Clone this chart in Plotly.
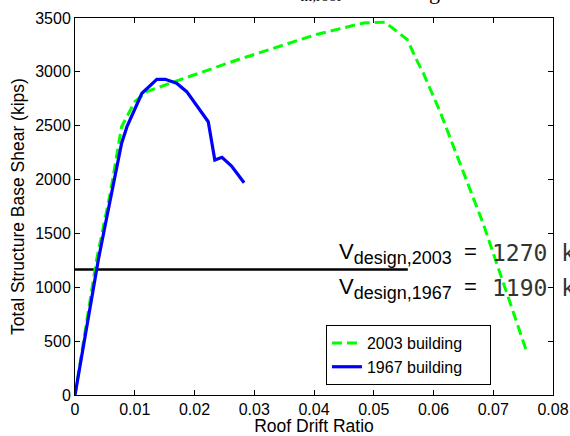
import plotly.graph_objects as go

# ---- data ----
drift_2003 = [0, 0.0036, 0.0059, 0.0078, 0.0100, 0.0120, 0.0159, 0.0271, 0.0404,
              0.0483, 0.0519, 0.0556, 0.0571, 0.0583, 0.0611, 0.0683, 0.0755]
shear_2003 = [0, 1253, 1872, 2491, 2723, 2816, 2894, 3110, 3347,
              3454, 3460, 3300, 3120, 2987, 2630, 1594, 418]

drift_1967 = [0, 0.0039, 0.0050, 0.0064, 0.0078, 0.0087, 0.0112, 0.0137, 0.0151,
              0.0170, 0.0187, 0.0209, 0.0223, 0.0234, 0.0246, 0.0262, 0.0283]
shear_1967 = [0, 1253, 1562, 1965, 2337, 2491, 2801, 2931, 2931,
              2894, 2816, 2646, 2537, 2182, 2207, 2126, 1971]

design_line_x = [0, 0.0557]
design_line_y = [1165, 1165]

x_ticks = [0, 0.01, 0.02, 0.03, 0.04, 0.05, 0.06, 0.07, 0.08]
x_tick_labels = ["0", "0.01", "0.02", "0.03", "0.04", "0.05", "0.06", "0.07", "0.08"]
y_ticks = [0, 500, 1000, 1500, 2000, 2500, 3000, 3500]
y_tick_labels = ["0", "500", "1000", "1500", "2000", "2500", "3000", "3500"]

FONT = "Liberation Sans, Arial, sans-serif"
SUB = "<sub><span style='font-size:18px'>{}</span></sub>"
PAD = "\u00a0" * 5

fig = go.Figure()
fig.add_trace(go.Scatter(x=design_line_x, y=design_line_y, mode="lines",
                         line=dict(color="black", width=2.5), showlegend=False,
                         hoverinfo="skip"))
fig.add_trace(go.Scatter(x=drift_2003, y=shear_2003, mode="lines", name="2003 building" + PAD,
                         line=dict(color="#00ff00", width=3, dash="10px,5px")))
fig.add_trace(go.Scatter(x=drift_1967, y=shear_1967, mode="lines", name="1967 building" + PAD,
                         line=dict(color="#0000ff", width=3.2)))

axis_common = dict(showline=True, linecolor="black", linewidth=1, mirror="ticks",
                   ticks="inside", ticklen=5, tickcolor="black", showgrid=False,
                   zeroline=False, automargin=False,
                   tickfont=dict(family=FONT, size=16, color="black"))

fig.update_xaxes(range=[0, 0.08], tickvals=x_ticks, ticktext=x_tick_labels,
                 title=dict(text="Roof Drift Ratio", font=dict(family=FONT, size=17.5, color="black"),
                            standoff=3),
                 **axis_common)
fig.update_yaxes(range=[0, 3500], tickvals=y_ticks, ticktext=y_tick_labels,
                 title=dict(text="Total Structure Base Shear (kips)",
                            font=dict(family=FONT, size=17.5, color="black"), standoff=6),
                 **axis_common)

annotations = [
    dict(x=0.04385, y=1160, xref="x", yref="y", xanchor="left", yanchor="bottom",
         text="V" + SUB.format("design,2003") + "  =", showarrow=False,
         font=dict(family=FONT, size=22, color="black")),
    dict(x=0.04385, y=835, xref="x", yref="y", xanchor="left", yanchor="bottom",
         text="V" + SUB.format("design,1967") + "  =", showarrow=False,
         font=dict(family=FONT, size=22, color="black")),
    dict(x=0.0694, y=1180, xref="x", yref="y", xanchor="left", yanchor="bottom",
         text="1270 k", showarrow=False,
         font=dict(family="DejaVu Sans Mono", size=23, color="#333333")),
    dict(x=0.0694, y=855, xref="x", yref="y", xanchor="left", yanchor="bottom",
         text="1190 k", showarrow=False,
         font=dict(family="DejaVu Sans Mono", size=23, color="#333333")),
    dict(x=0.5, y=1.033, xref="paper", yref="paper", xanchor="center", yanchor="bottom",
         text="Δ<sub>in,roof</sub>", showarrow=False,
         font=dict(family="Liberation Serif", size=22, color="black")),
    dict(x=0.752, y=1.033, xref="paper", yref="paper", xanchor="center", yanchor="bottom",
         text="g", showarrow=False,
         font=dict(family="Liberation Serif", size=22, color="black")),
]
fig.update_layout(annotations=annotations)

fig.update_layout(
    width=570, height=436,
    margin=dict(l=75, r=17, t=18, b=41, autoexpand=False),
    paper_bgcolor="white", plot_bgcolor="white",
    legend=dict(x=0.525, y=0.106, xanchor="left", yanchor="middle",
                bgcolor="white", bordercolor="black", borderwidth=1,
                font=dict(family=FONT, size=16, color="black"),
                tracegroupgap=0, itemwidth=30),
)

fig.write_html("out.html", config={"displayModeBar": False},
               post_script="document.body.style.margin='0';document.body.style.padding='0';")
